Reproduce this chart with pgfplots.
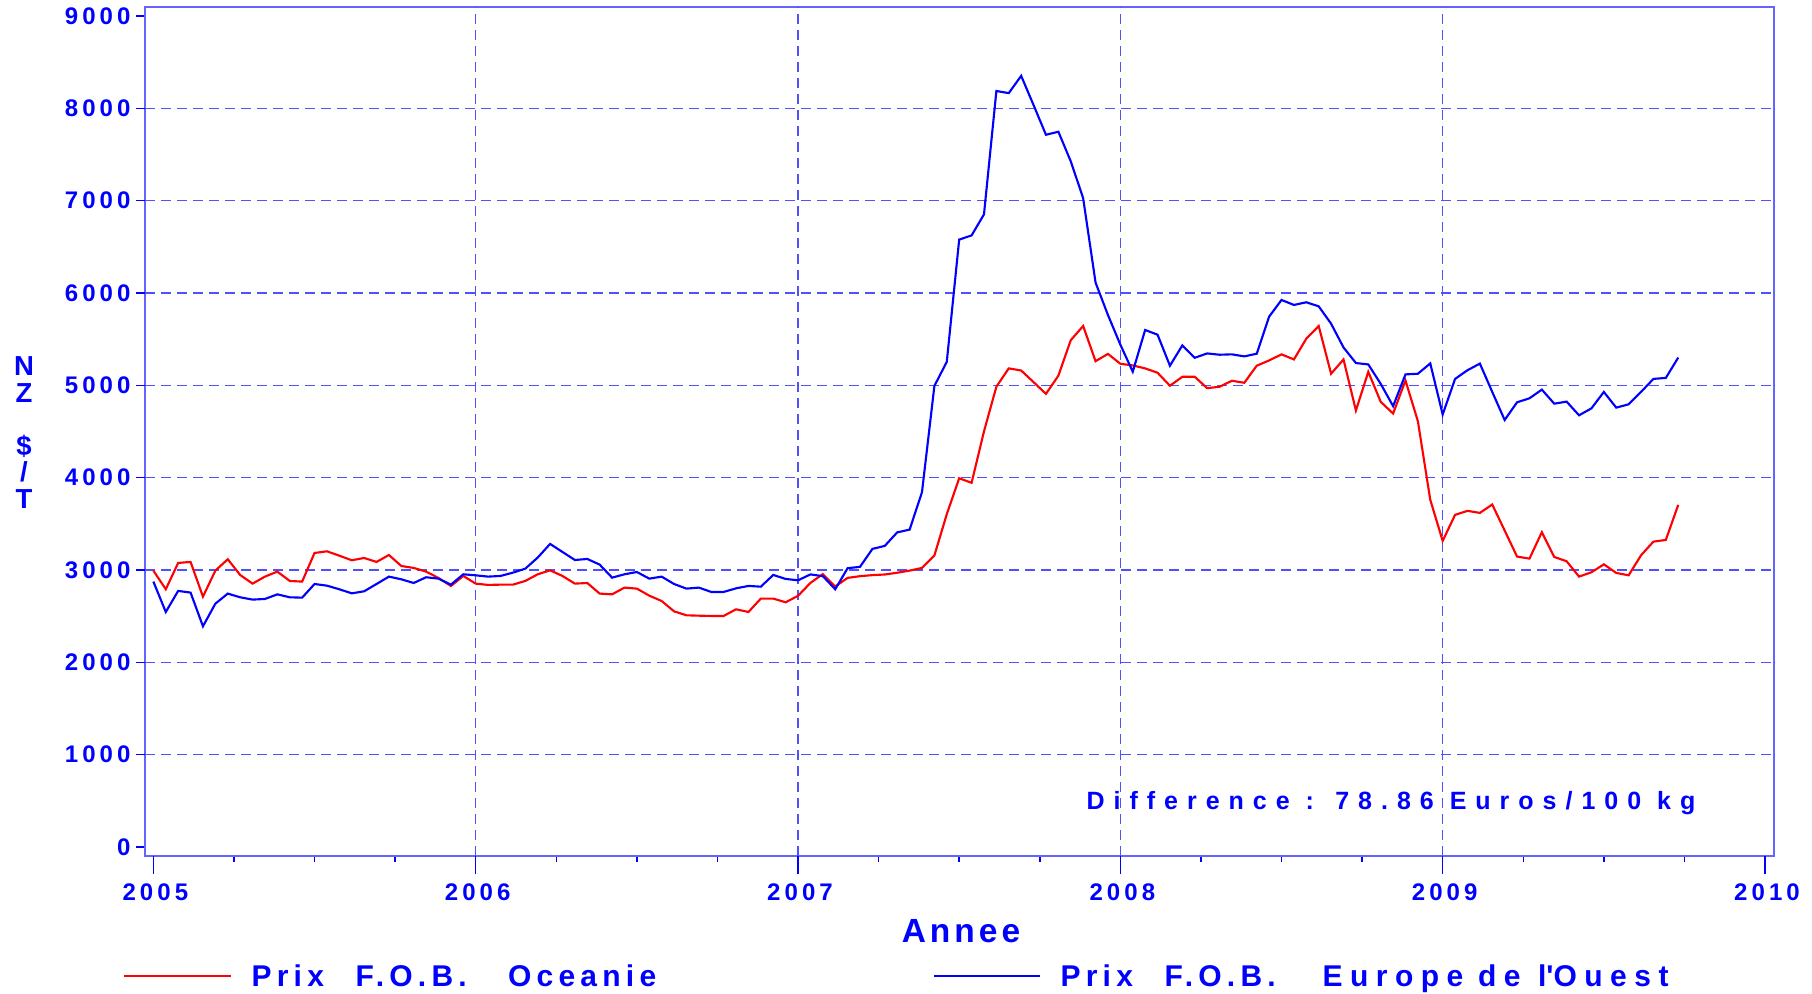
\documentclass[border=0pt]{standalone}
\usepackage{pgfplots}
\pgfplotsset{compat=1.18}
\usepackage{pgfplotstable}
\usepackage{fontspec}
\setmainfont{Liberation Sans}
\newfontfamily\tickfam[LetterSpace=17]{Liberation Sans}
\newfontfamily\annfam[LetterSpace=36]{Liberation Sans}
\newfontfamily\legfam[LetterSpace=17.5]{Liberation Sans}
\newfontfamily\legwfam[LetterSpace=25]{Liberation Sans}
\newfontfamily\labfam[LetterSpace=12]{Liberation Sans}
\newcommand\tickfont{\tickfam\bfseries\fontsize{9.6pt}{11pt}\selectfont}
\newcommand\annfont{\annfam\bfseries\fontsize{10pt}{12pt}\selectfont}
\newcommand\legfont{\legfam\bfseries\fontsize{12pt}{14pt}\selectfont}
\newcommand\legwfont{\legwfam\bfseries\fontsize{12pt}{14pt}\selectfont}
\newcommand\xlabfont{\labfam\bfseries\fontsize{13.4pt}{15pt}\selectfont}
\newcommand\ylabfont{\bfseries\fontsize{11pt}{10.6pt}\selectfont}
\definecolor{textblue}{RGB}{0,0,255}
\definecolor{linered}{RGB}{255,0,0}
\definecolor{lineblue}{RGB}{0,0,255}
\definecolor{framecol}{RGB}{100,100,255}
\definecolor{gridcol}{RGB}{80,80,255}

\pgfplotstableread{
t oce eur
2005.0000 2993 2874
2005.0385 2791 2545
2005.0769 3076 2773
2005.1154 3087 2755
2005.1538 2711 2390
2005.1923 2993 2635
2005.2308 3116 2744
2005.2692 2946 2704
2005.3077 2852 2679
2005.3462 2928 2686
2005.3846 2982 2736
2005.4231 2881 2704
2005.4615 2874 2700
2005.5000 3184 2848
2005.5385 3202 2830
2005.5769 3155 2791
2005.6154 3105 2747
2005.6538 3130 2769
2005.6923 3087 2848
2005.7308 3162 2928
2005.7692 3043 2899
2005.8077 3022 2859
2005.8462 2982 2921
2005.8846 2913 2906
2005.9231 2827 2841
2005.9615 2935 2953
2006.0000 2852 2942
2006.0385 2838 2928
2006.0769 2841 2935
2006.1154 2841 2971
2006.1538 2881 3014
2006.1923 2953 3134
2006.2308 2996 3282
2006.2692 2935 3195
2006.3077 2852 3108
2006.3462 2859 3119
2006.3846 2744 3058
2006.4231 2736 2917
2006.4615 2809 2953
2006.5000 2798 2978
2006.5385 2722 2906
2006.5769 2664 2928
2006.6154 2552 2848
2006.6538 2509 2798
2006.6923 2505 2809
2006.7308 2502 2762
2006.7692 2502 2762
2006.8077 2574 2801
2006.8462 2545 2827
2006.8846 2690 2819
2006.9231 2690 2946
2006.9615 2650 2903
2007.0000 2720 2888
2007.0385 2860 2952
2007.0769 2955 2933
2007.1154 2821 2791
2007.1538 2914 3019
2007.1923 2933 3034
2007.2308 2944 3228
2007.2692 2951 3261
2007.3077 2970 3407
2007.3462 2993 3437
2007.3846 3022 3843
2007.4231 3157 4993
2007.4615 3604 5254
2007.5000 3993 6578
2007.5385 3944 6623
2007.5769 4500 6851
2007.6154 4985 8187
2007.6538 5183 8164
2007.6923 5160 8351
2007.7308 5034 8034
2007.7692 4907 7713
2007.8077 5104 7746
2007.8462 5489 7425
2007.8846 5642 7026
2007.9231 5261 6112
2007.9615 5340 5761
2008.0000 5233 5440
2008.0385 5215 5147
2008.0769 5183 5599
2008.1154 5136 5548
2008.1538 4995 5212
2008.1923 5092 5432
2008.2308 5092 5298
2008.2692 4969 5345
2008.3077 4984 5331
2008.3462 5049 5335
2008.3846 5027 5313
2008.4231 5212 5342
2008.4615 5269 5743
2008.5000 5335 5924
2008.5385 5280 5870
2008.5769 5505 5899
2008.6154 5642 5855
2008.6538 5125 5667
2008.6923 5280 5410
2008.7308 4727 5241
2008.7692 5146 5226
2008.8077 4821 5016
2008.8462 4694 4774
2008.8846 5052 5118
2008.9231 4611 5125
2008.9615 3760 5237
2009.0000 3315 4684
2009.0385 3597 5069
2009.0769 3640 5163
2009.1154 3618 5235
2009.1538 3709 4928
2009.1923 3427 4624
2009.2308 3145 4816
2009.2692 3123 4859
2009.3077 3409 4953
2009.3462 3141 4801
2009.3846 3094 4823
2009.4231 2928 4675
2009.4615 2975 4750
2009.5000 3061 4928
2009.5385 2968 4758
2009.5769 2942 4794
2009.6154 3159 4928
2009.6538 3307 5069
2009.6923 3325 5080
2009.7308 3705 5300
}\prix

\begin{document}
\begin{tikzpicture}
\useasboundingbox (-58pt,-55.2pt) rectangle (666.8pt,342.4pt);
\begin{axis}[
  scale only axis, width=651.6pt, height=339.6pt,
  xmin=2004.974, xmax=2010.028, ymin=-97.5, ymax=9097,
  axis line style={framecol, line width=0.6pt},
  tick align=outside, tick pos=left,
  major tick length=3.6pt, minor tick length=2.4pt,
  every tick/.style={textblue, line width=0.6pt},
  xtick={2005,2006,2007,2008,2009,2010},
  xticklabels={2005,2006,2007,2008,2009,2010},
  minor x tick num=3,
  ytick={0,1000,2000,3000,4000,5000,6000,7000,8000,9000},
  yticklabels={0,1000,2000,3000,4000,5000,6000,7000,8000,9000},
  extra x ticks={2006,2007,2008,2009}, extra x tick labels={},
  extra x tick style={grid=major},
  extra y ticks={1000,2000,3000,4000,5000,6000,7000,8000}, extra y tick labels={},
  extra y tick style={grid=major},
  major grid style={gridcol, line width=0.5pt, dash pattern=on 4pt off 2.4pt},
  tick label style={font=\tickfont, text=textblue},
  xticklabel style={anchor=base, inner sep=0pt, yshift=-14.4pt, xshift=0.8pt},
  yticklabel style={anchor=east, inner sep=0pt, xshift=-2pt},
]
\addplot[linered, line width=0.85pt] table[x=t, y=oce] {\prix};
\addplot[lineblue, line width=0.85pt] table[x=t, y=eur] {\prix};
\end{axis}
\begin{axis}[
  scale only axis, width=651.6pt, height=339.6pt,
  xmin=2004.974, xmax=2010.028, ymin=-97.5, ymax=9097,
  hide y axis, axis line style={draw=none},
  tick align=outside, xtick pos=left,
  xtick={2005,2006,2007,2008,2009,2010}, xticklabels={},
  minor x tick num=0, major tick length=7.2pt,
  every tick/.style={textblue, line width=0.6pt},
]
\end{axis}
% y label
\node[text=textblue, font=\ylabfont, align=center, inner sep=0pt] at (-48.4pt,169.4pt) {N\\Z\\[10.6pt]\$\\/\\T};
% x label
\node[text=textblue, font=\xlabfont, anchor=base, inner sep=0pt] at (326.4pt,-34.8pt) {Annee};
% annotation
\node[text=textblue, font=\annfont, anchor=base west, inner sep=0pt] at (376.4pt,18.4pt) {Difference : 78.86 Euros/100 kg};
% legend
\draw[linered, line width=0.85pt] (-8.4pt,-48pt) -- (34.4pt,-48pt);
\begin{scope}[every node/.style={text=textblue, font=\legfont, anchor=base west, inner sep=0pt}]
\node at (42.4pt,-52.4pt) {Prix};
\node at (84pt,-52.4pt) {F.O.B.};
\node at (145pt,-52.4pt) {Oceanie};
\end{scope}
\draw[lineblue, line width=0.85pt] (315.6pt,-48pt) -- (358pt,-48pt);
\begin{scope}[every node/.style={text=textblue, font=\legfont, anchor=base west, inner sep=0pt}]
\node at (366pt,-52.4pt) {Prix};
\node at (407.6pt,-52.4pt) {F.O.B.};
\node[font=\legwfont] at (470.8pt,-52.4pt) {Europe};
\node[font=\legwfont] at (533pt,-52.4pt) {de};
\node[font=\legwfont] at (557pt,-52.4pt) {l\textquotesingle Ouest};
\end{scope}
\end{tikzpicture}
\end{document}
